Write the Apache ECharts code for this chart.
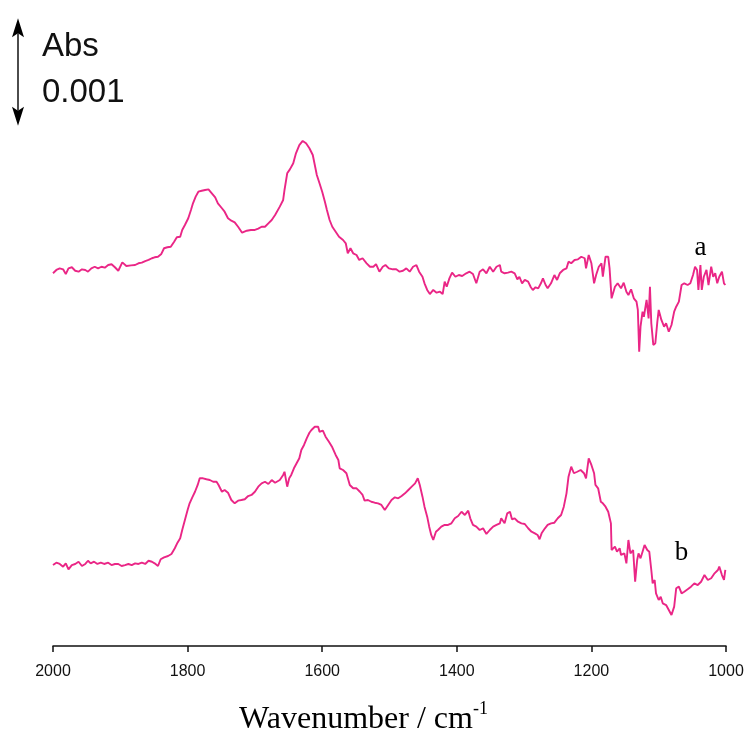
<!DOCTYPE html>
<html>
<head>
<meta charset="utf-8">
<title>IR difference spectra</title>
<script src="https://cdn.jsdelivr.net/npm/echarts@6/dist/echarts.min.js"></script>
<style>
  html, body { margin: 0; padding: 0; background: #ffffff; }
  #chart { width: 750px; height: 731px; }
</style>
</head>
<body>
<div id="chart"></div>
<script>
// Spectrum a (upper trace): wavenumber (cm-1) and absorbance (x10^-3, offset for display)
const waveA = [2000,1995,1990,1985,1981,1977,1972,1967,1962,1957,1952,1948,1943,1938,1933,1928,1923,1918,1913,1908,1903,1897,1891,1884,1878,1873,1868,1863,1858,1853,1849,1844,1839,1835,1830,1825,1820,1816,1811,1808,1804,1799,1795,1792,1788,1784,1779,1774,1769,1764,1759,1755,1749,1745,1740,1735,1730,1725,1719,1712,1706,1700,1695,1690,1685,1680,1675,1670,1663,1658,1656,1652,1648,1643,1639,1634,1629,1624,1619,1614,1611,1608,1604,1600,1596,1593,1589,1585,1580,1575,1569,1565,1562,1558,1554,1549,1545,1540,1534,1529,1524,1520,1515,1510,1506,1501,1495,1490,1485,1480,1475,1470,1465,1460,1456,1451,1448,1444,1440,1435,1430,1425,1421,1418,1415,1411,1407,1402,1397,1392,1386,1381,1376,1371,1366,1361,1356,1351,1346,1341,1336,1334,1329,1324,1319,1314,1310,1307,1303,1299,1294,1290,1287,1283,1279,1275,1272,1268,1265,1260,1255,1251,1247,1242,1237,1234,1230,1225,1220,1215,1210,1208,1204,1200,1196,1193,1189,1185,1183,1179,1175,1173,1170,1165,1161,1156,1152,1148,1145,1141,1137,1133,1131,1129,1127,1124,1122,1118,1115,1113,1111,1108,1105,1102,1100,1096,1092,1089,1085,1081,1077,1074,1070,1066,1062,1057,1053,1049,1046,1043,1041,1038,1036,1033,1029,1026,1022,1019,1016,1013,1010,1006,1003,1001];
const absA = [3.467,3.498,3.513,3.504,3.460,3.513,3.523,3.491,3.482,3.504,3.498,3.482,3.513,3.528,3.513,3.528,3.519,3.544,3.551,3.523,3.491,3.569,3.535,3.541,3.544,3.560,3.566,3.581,3.591,3.607,3.616,3.621,3.647,3.700,3.709,3.714,3.761,3.802,3.807,3.870,3.916,3.979,4.056,4.118,4.180,4.226,4.235,4.242,4.248,4.211,4.174,4.118,4.072,4.040,3.979,3.956,3.941,3.900,3.845,3.863,3.870,3.870,3.882,3.900,3.900,3.932,3.963,4.009,4.087,4.149,4.242,4.397,4.434,4.490,4.583,4.660,4.698,4.676,4.630,4.567,4.474,4.381,4.304,4.226,4.133,4.056,3.963,3.900,3.854,3.807,3.777,3.746,3.653,3.700,3.653,3.637,3.591,3.607,3.560,3.528,3.528,3.553,3.482,3.528,3.544,3.513,3.504,3.504,3.482,3.491,3.513,3.482,3.528,3.544,3.482,3.435,3.374,3.312,3.274,3.312,3.287,3.296,3.274,3.389,3.342,3.420,3.473,3.435,3.451,3.442,3.467,3.482,3.460,3.374,3.482,3.504,3.467,3.528,3.482,3.528,3.544,3.482,3.467,3.473,3.482,3.467,3.411,3.435,3.374,3.405,3.389,3.337,3.312,3.337,3.327,3.374,3.420,3.358,3.327,3.374,3.451,3.405,3.467,3.498,3.513,3.575,3.560,3.591,3.597,3.621,3.607,3.513,3.637,3.560,3.374,3.451,3.528,3.560,3.435,3.621,3.621,3.513,3.234,3.342,3.374,3.327,3.380,3.296,3.265,3.318,3.234,3.203,3.126,2.738,2.970,3.110,3.063,3.219,3.048,3.342,3.002,2.800,2.816,3.017,3.126,3.033,2.970,3.002,2.924,2.986,3.110,3.156,3.203,3.358,3.374,3.358,3.374,3.451,3.528,3.498,3.312,3.544,3.312,3.435,3.498,3.358,3.528,3.435,3.467,3.374,3.435,3.482,3.374,3.358];

// Spectrum b (lower trace)
const waveB = [2000,1995,1990,1985,1981,1977,1972,1967,1962,1957,1952,1948,1944,1939,1934,1929,1924,1918,1913,1908,1903,1898,1893,1888,1883,1878,1873,1868,1863,1858,1853,1849,1844,1840,1835,1829,1824,1819,1815,1811,1808,1804,1800,1797,1793,1789,1785,1782,1777,1772,1767,1762,1757,1754,1749,1745,1740,1735,1730,1725,1720,1715,1710,1705,1700,1695,1690,1685,1680,1675,1670,1663,1658,1656,1652,1649,1646,1642,1638,1634,1631,1627,1623,1619,1616,1611,1606,1604,1599,1595,1590,1585,1580,1576,1574,1569,1564,1559,1554,1549,1544,1540,1537,1532,1527,1522,1517,1512,1507,1502,1497,1492,1487,1482,1477,1472,1467,1462,1458,1455,1451,1448,1444,1441,1438,1435,1431,1428,1423,1418,1413,1408,1403,1398,1393,1388,1383,1380,1376,1371,1366,1361,1356,1351,1346,1341,1336,1334,1329,1325,1321,1318,1314,1309,1304,1299,1294,1289,1284,1280,1277,1274,1269,1265,1260,1255,1250,1245,1241,1237,1234,1230,1226,1221,1216,1211,1208,1204,1200,1196,1194,1190,1186,1183,1179,1175,1171,1170,1165,1162,1158,1156,1151,1148,1145,1142,1138,1135,1132,1130,1127,1124,1121,1117,1114,1111,1109,1106,1104,1100,1097,1094,1089,1085,1081,1077,1074,1070,1066,1062,1057,1052,1047,1042,1037,1032,1027,1022,1017,1012,1010,1006,1003,1001];
const absB = [0.753,0.775,0.763,0.738,0.769,0.713,0.753,0.763,0.784,0.744,0.763,0.793,0.769,0.784,0.763,0.775,0.763,0.775,0.753,0.763,0.763,0.744,0.753,0.763,0.753,0.769,0.763,0.775,0.763,0.793,0.784,0.769,0.744,0.807,0.825,0.837,0.856,0.909,0.961,1.002,1.079,1.172,1.265,1.327,1.383,1.435,1.498,1.560,1.560,1.551,1.544,1.528,1.528,1.498,1.435,1.451,1.426,1.358,1.327,1.352,1.358,1.365,1.395,1.405,1.435,1.482,1.513,1.528,1.507,1.544,1.519,1.544,1.591,1.621,1.482,1.560,1.591,1.653,1.700,1.746,1.823,1.870,1.932,1.984,2.009,2.040,2.040,1.993,2.003,1.947,1.900,1.848,1.777,1.730,1.653,1.637,1.607,1.498,1.467,1.467,1.435,1.405,1.352,1.358,1.342,1.333,1.327,1.312,1.265,1.312,1.358,1.383,1.374,1.395,1.420,1.451,1.482,1.513,1.560,1.498,1.389,1.296,1.203,1.110,1.033,0.986,1.063,1.079,1.110,1.126,1.126,1.141,1.188,1.209,1.249,1.219,1.259,1.188,1.126,1.110,1.079,1.095,1.042,1.079,1.110,1.126,1.141,1.188,1.141,1.234,1.249,1.179,1.188,1.156,1.141,1.135,1.095,1.063,1.048,1.033,0.993,1.048,1.095,1.126,1.141,1.147,1.188,1.219,1.296,1.420,1.575,1.668,1.607,1.621,1.637,1.607,1.560,1.746,1.684,1.607,1.498,1.467,1.342,1.327,1.296,1.249,1.141,0.893,0.924,0.877,0.909,0.847,0.862,0.769,0.986,0.862,0.893,0.598,0.800,0.862,0.816,0.877,0.940,0.893,0.877,0.707,0.583,0.614,0.490,0.428,0.459,0.397,0.381,0.335,0.288,0.366,0.537,0.552,0.490,0.505,0.527,0.552,0.583,0.567,0.598,0.660,0.614,0.630,0.676,0.707,0.738,0.660,0.614,0.707];

// Axis ticks and trace labels
const xTicks = [2000, 1800, 1600, 1400, 1200, 1000];
const traceLabels = [
  { name: 'a', wave: 1038, abs: 3.70 },
  { name: 'b', wave: 1066, abs: 0.865 }
];
// Vertical scale bar: 0.001 Abs (= 1 unit on the y axis)
const scaleBar = { top: 5.84, bottom: 4.84, text: ['Abs', '0.001'] };

const lineColor = '#EA2686';

function pairs(xs, ys) {
  return xs.map((x, i) => [x, ys[i]]);
}

const chart = echarts.init(document.getElementById('chart'), null, { renderer: 'canvas' });

function labelPoint(lbl) {
  return {
    coord: [lbl.wave, lbl.abs],
    symbol: 'rect',
    symbolSize: 1,
    itemStyle: { color: 'rgba(0,0,0,0)' },
    label: {
      show: true,
      formatter: lbl.name,
      position: 'inside',
      fontFamily: 'Liberation Serif, Times New Roman, serif',
      fontSize: 27,
      color: '#000'
    }
  };
}

const option = {
  animation: false,
  backgroundColor: '#ffffff',
  grid: { left: 53, right: 24, top: 1, bottom: 85, containLabel: false, outerBoundsMode: 'none' },
  xAxis: {
    type: 'value',
    min: 1000,
    max: 2000,
    interval: 200,
    inverse: true,
    axisLine: { show: true, onZero: false, lineStyle: { color: '#111', width: 1.5 } },
    axisTick: { show: true, inside: false, length: 6, lineStyle: { color: '#111', width: 1.5 } },
    splitLine: { show: false },
    axisLabel: {
      margin: 18,
      fontFamily: 'Liberation Sans, Arial, sans-serif',
      fontSize: 16,
      color: '#111',
      formatter: v => (xTicks.indexOf(v) >= 0 ? String(v) : '')
    },
    name: '{t|Wavenumber / cm}{s|-1}',
    nameLocation: 'middle',
    nameGap: 54,
    nameTextStyle: {
      padding: [0, 52, 0, 0],
      rich: {
        t: { fontFamily: 'Liberation Serif, Times New Roman, serif', fontSize: 32, color: '#000', verticalAlign: 'bottom', lineHeight: 36 },
        s: { fontFamily: 'Liberation Serif, Times New Roman, serif', fontSize: 18, color: '#000', verticalAlign: 'top', lineHeight: 36, padding: [0, 0, 14, 0] }
      }
    }
  },
  yAxis: {
    type: 'value',
    min: 0,
    max: 6,
    show: false
  },
  series: [
    {
      name: 'a',
      type: 'line',
      data: pairs(waveA, absA),
      showSymbol: false,
      lineStyle: { color: lineColor, width: 1.9 },
      markPoint: { silent: true, data: [labelPoint(traceLabels[0])] }
    },
    {
      name: 'b',
      type: 'line',
      data: pairs(waveB, absB),
      showSymbol: false,
      lineStyle: { color: lineColor, width: 1.9 },
      markPoint: { silent: true, data: [labelPoint(traceLabels[1])] }
    }
  ]
};

chart.setOption(option);

// Scale bar: its length comes from the y axis, so it always spans 0.001 Abs
const yTop = chart.convertToPixel({ yAxisIndex: 0 }, scaleBar.top);
const yBot = chart.convertToPixel({ yAxisIndex: 0 }, scaleBar.bottom);
const barX = 18;
const head = 19, halfW = 6, notch = 4;
chart.setOption({
  graphic: [
    {
      type: 'line',
      shape: { x1: barX, y1: yTop + head - notch, x2: barX, y2: yBot - head + notch },
      style: { stroke: '#000', lineWidth: 1.4 }
    },
    {
      type: 'polygon',
      shape: { points: [[barX, yTop], [barX - halfW, yTop + head], [barX, yTop + head - notch], [barX + halfW, yTop + head]] },
      style: { fill: '#000' }
    },
    {
      type: 'polygon',
      shape: { points: [[barX, yBot], [barX - halfW, yBot - head], [barX, yBot - head + notch], [barX + halfW, yBot - head]] },
      style: { fill: '#000' }
    },
    {
      type: 'text',
      left: 42,
      top: 30,
      style: { text: scaleBar.text[0], font: '33px "Liberation Sans", Arial, sans-serif', fill: '#111' }
    },
    {
      type: 'text',
      left: 42,
      top: 76,
      style: { text: scaleBar.text[1], font: '33px "Liberation Sans", Arial, sans-serif', fill: '#111' }
    }
  ]
});
</script>
</body>
</html>
